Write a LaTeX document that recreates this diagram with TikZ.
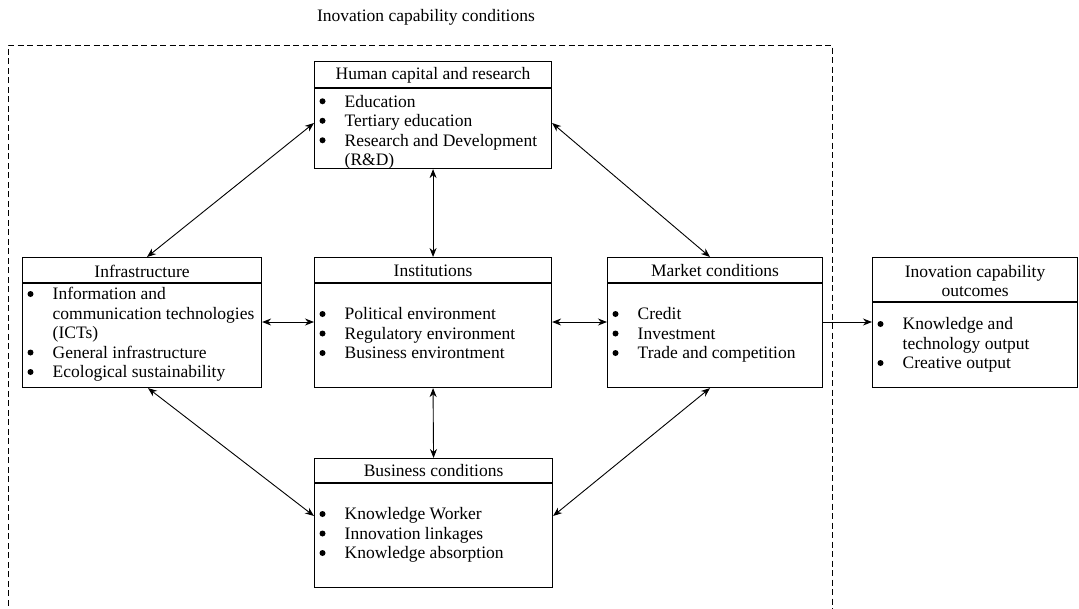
\documentclass[tikz,border=0pt]{standalone}
\usepackage{fontspec}
\setmainfont{Liberation Serif}
\usetikzlibrary{arrows.meta}
\newcommand\boxfont{\fontsize{17.5}{19.5}\selectfont}
\begin{document}
\begin{tikzpicture}[x=1pt,y=-1pt,
  box/.style={draw, line width=1.1pt, anchor=north west, inner sep=0pt, fill=white},
  headtext/.style={font=\boxfont, inner sep=0pt, align=center},
  itemlist/.style={font=\boxfont, inner sep=0pt, anchor=west, align=left},
  dot/.style={fill=black},
  frame/.style={line width=0.8pt, dash pattern=on 6pt off 3.5pt},
  tip/.tip={Stealth[length=9pt,width=7pt]},
  link/.style={line width=0.9pt, tip-tip},
  flow/.style={line width=0.9pt, -tip},
]
\useasboundingbox (0,0) rectangle (1079,608);

% surrounding group of conditions
\draw[frame] (8,615) -- (8,45) -- (832,45) -- (832,615);
\node[headtext] (title) at (426,17) {Inovation capability conditions};

% boxes
\node[box, minimum width=237pt, minimum height=107pt] (hum) at (314,61) {};
\node[box, minimum width=239pt, minimum height=130pt] (inf) at (22,257) {};
\node[box, minimum width=237pt, minimum height=130pt] (ins) at (314,257) {};
\node[box, minimum width=215pt, minimum height=130pt] (mkt) at (607,257) {};
\node[box, minimum width=205pt, minimum height=130pt] (out) at (872,257) {};
\node[box, minimum width=238pt, minimum height=129pt] (bus) at (314,458) {};

% header rules
\draw[line width=1.1pt] (hum.west |- 0,88) -- (hum.east |- 0,88);
\draw[line width=1.1pt] (inf.west |- 0,283) -- (inf.east |- 0,283);
\draw[line width=1.1pt] (ins.west |- 0,283) -- (ins.east |- 0,283);
\draw[line width=1.1pt] (mkt.west |- 0,283) -- (mkt.east |- 0,283);
\draw[line width=1.1pt] (out.west |- 0,302) -- (out.east |- 0,302);
\draw[line width=1.1pt] (bus.west |- 0,483) -- (bus.east |- 0,483);

% headers
\node[headtext] (humh) at (hum.center |- 0,75) {Human capital and research};
\node[headtext] (infh) at (inf.center |- 0,271) {Infrastructure};
\node[headtext] (insh) at (ins.center |- 0,271) {Institutions};
\node[headtext] (mkth) at (mkt.center |- 0,271) {Market conditions};
\node[headtext] (outh) at (out.center |- 0,281) {Inovation capability\\outcomes};
\node[headtext] (bush) at (bus.center |- 0,471) {Business conditions};

% item lists (first column keeps room for the bullet dots)
\node[itemlist] (huml) at (319.5,132.5) {\begin{tabular}{@{}p{25pt}@{}l@{}}
 & Education\\
 & Tertiary education\\
 & Research and Development\\
 & (R\&D)
\end{tabular}};
\node[itemlist] (infl) at (27.5,335) {\begin{tabular}{@{}p{25pt}@{}l@{}}
 & Information and\\
 & communication technologies\\
 & (ICTs)\\
 & General infrastructure\\
 & Ecological sustainability
\end{tabular}};
\node[itemlist] (insl) at (319.5,335.5) {\begin{tabular}{@{}p{25pt}@{}l@{}}
 & Political environment\\
 & Regulatory environment\\
 & Business environtment
\end{tabular}};
\node[itemlist] (mktl) at (612.5,335.5) {\begin{tabular}{@{}p{25pt}@{}l@{}}
 & Credit\\
 & Investment\\
 & Trade and competition
\end{tabular}};
\node[itemlist] (outl) at (877.5,345.5) {\begin{tabular}{@{}p{25pt}@{}l@{}}
 & Knowledge and\\
 & technology output\\
 & Creative output
\end{tabular}};
\node[itemlist] (busl) at (319.5,535.5) {\begin{tabular}{@{}p{25pt}@{}l@{}}
 & Knowledge Worker\\
 & Innovation linkages\\
 & Knowledge absorption
\end{tabular}};

% bullet dots, one per item, offsets in rows of 19.5pt from the list centre
\begin{scope}[shift={(huml.west)}, yshift=2pt]
  \foreach \dy in {-29.25,-9.75,9.75} \fill[dot] (3,\dy) circle (3pt);
\end{scope}
\begin{scope}[shift={(infl.west)}, yshift=2pt]
  \foreach \dy in {-39,19.5,39} \fill[dot] (3,\dy) circle (3pt);
\end{scope}
\begin{scope}[shift={(insl.west)}, yshift=2pt]
  \foreach \dy in {-19.5,0,19.5} \fill[dot] (3,\dy) circle (3pt);
\end{scope}
\begin{scope}[shift={(mktl.west)}, yshift=2pt]
  \foreach \dy in {-19.5,0,19.5} \fill[dot] (3,\dy) circle (3pt);
\end{scope}
\begin{scope}[shift={(outl.west)}, yshift=2pt]
  \foreach \dy in {-19.5,19.5} \fill[dot] (3,\dy) circle (3pt);
\end{scope}
\begin{scope}[shift={(busl.west)}, yshift=2pt]
  \foreach \dy in {-19.5,0,19.5} \fill[dot] (3,\dy) circle (3pt);
\end{scope}

% connectors
\draw[link] (hum.west |- 0,123) -- (147,0 |- inf.north);
\draw[link] (hum.east |- 0,123) -- (710,0 |- mkt.north);
\draw[link] (hum.south) -- (ins.north);
\draw[link] (inf.east |- 0,322) -- (ins.west |- 0,322);
\draw[link] (ins.east |- 0,322) -- (mkt.west |- 0,322);
\draw[flow] (mkt.east |- 0,322) -- (out.west |- 0,322);
\draw[link] (ins.south) -- (bus.north);
\draw[link] (148,0 |- inf.south) -- (bus.west |- 0,516);
\draw[link] (710,0 |- mkt.south) -- (bus.east |- 0,516);
\end{tikzpicture}
\end{document}
